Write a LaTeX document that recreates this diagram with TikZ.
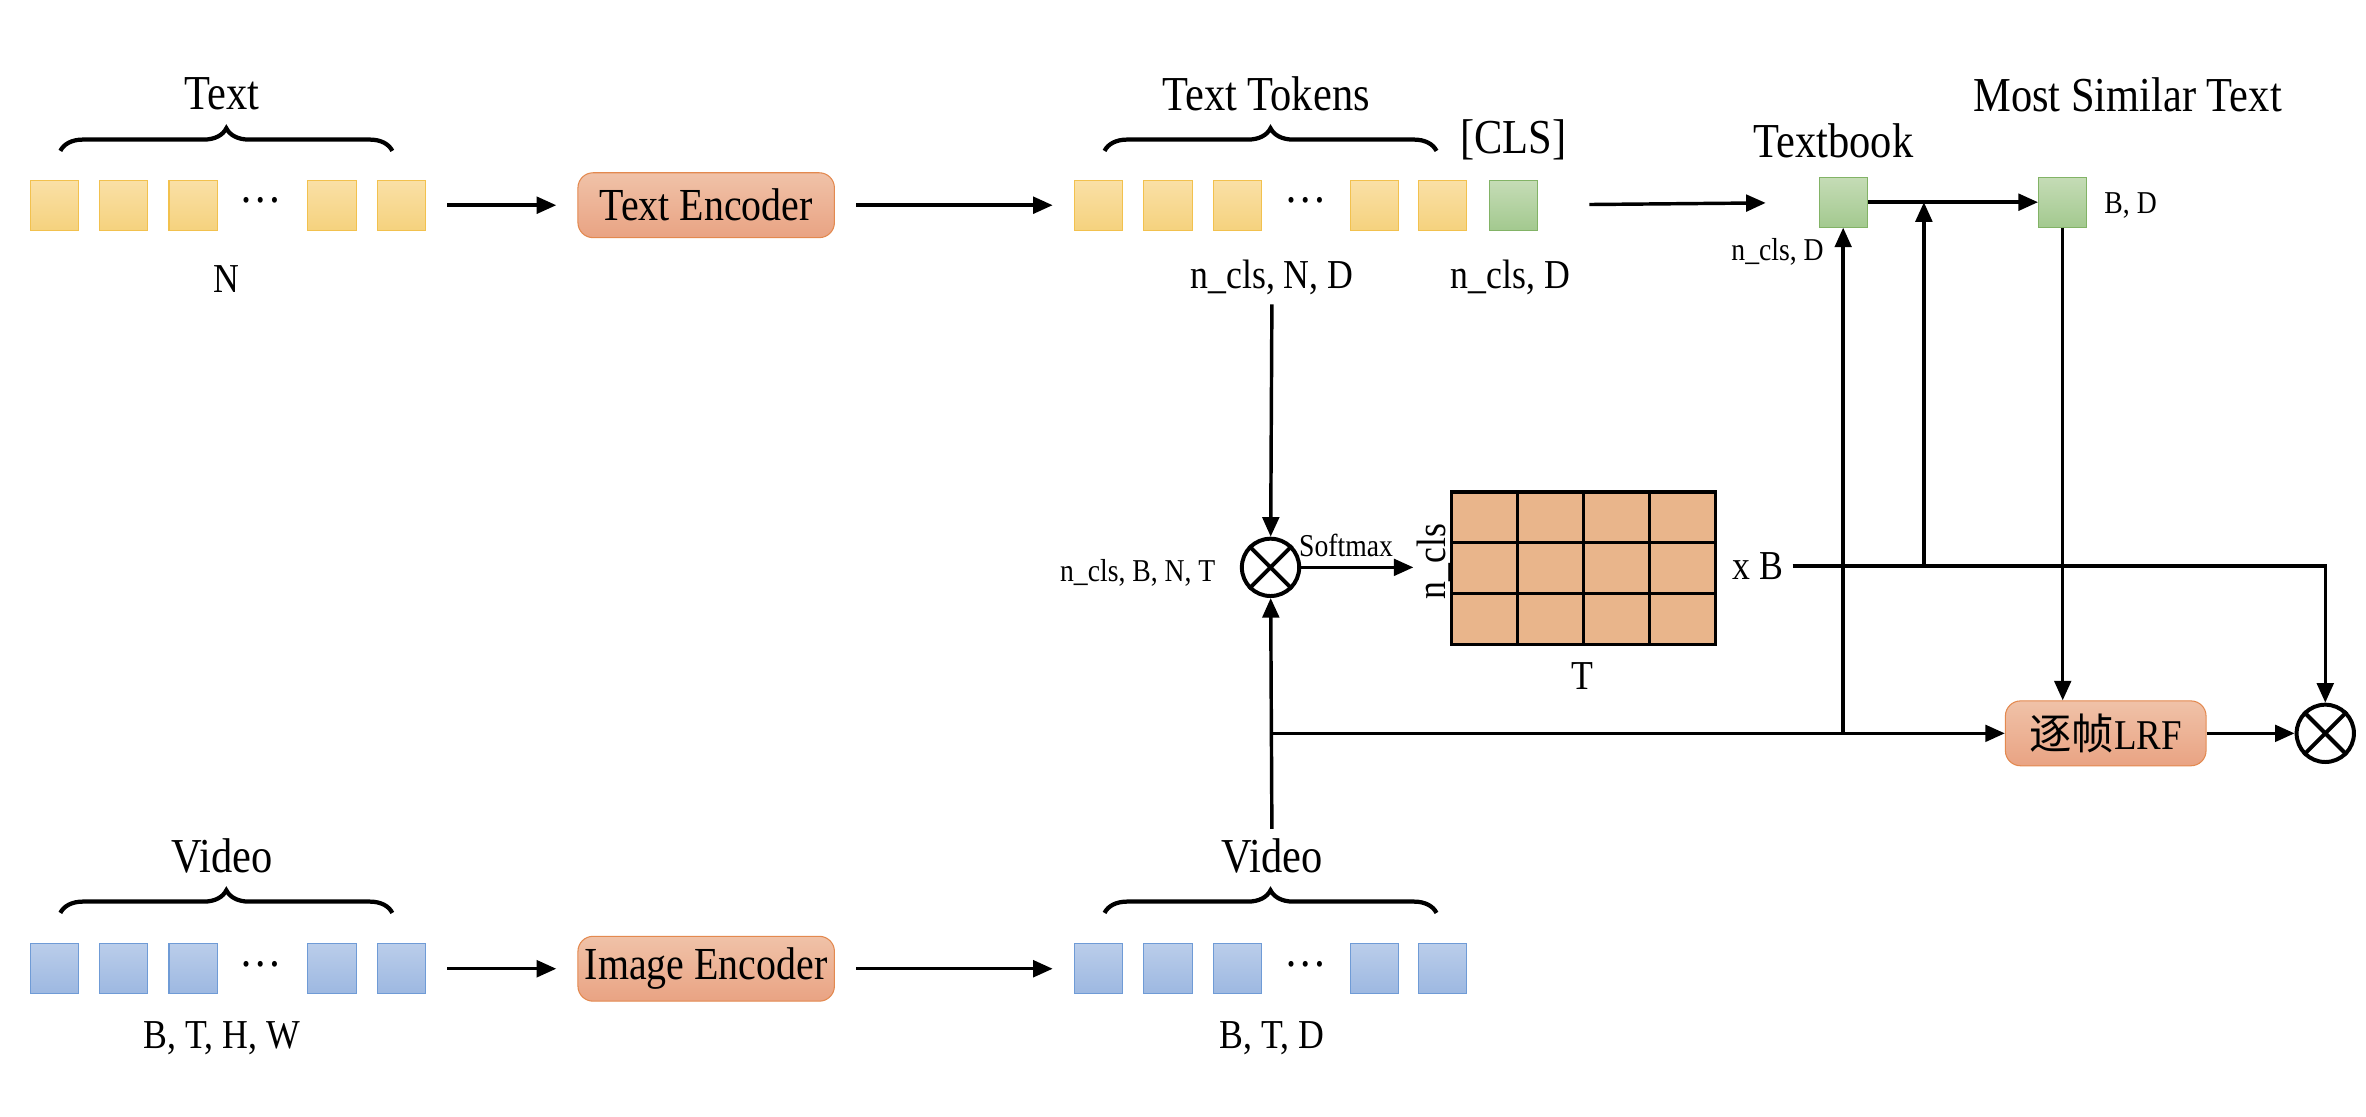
\documentclass[tikz,border=0pt]{standalone}
\usepackage{fontspec}
\setmainfont{Liberation Serif}[FakeStretch=0.87]
\newfontfamily\cjk{Noto Sans CJK SC}
\usetikzlibrary{arrows.meta,decorations.pathreplacing,shapes.misc}
\definecolor{ytop}{HTML}{FAE0A6}
\definecolor{ybot}{HTML}{F5D27E}
\definecolor{yline}{HTML}{F2C14E}
\definecolor{btop}{HTML}{BACDEA}
\definecolor{bbot}{HTML}{9DB8E1}
\definecolor{bline}{HTML}{6F9BD6}
\definecolor{gtop}{HTML}{C5DCB6}
\definecolor{gbot}{HTML}{A3C98F}
\definecolor{gline}{HTML}{82B366}
\definecolor{otop}{HTML}{F0C2A8}
\definecolor{obot}{HTML}{E9A383}
\definecolor{oline}{HTML}{E3894F}
\definecolor{matfill}{HTML}{E9B58B}

\begin{document}
\begin{tikzpicture}[x=0.02cm,y=-0.02cm,
    big/.style={font=\fontsize{18.4}{21}\selectfont},
    mid/.style={font=\fontsize{15.5}{18}\selectfont},
    small/.style={font=\fontsize{12}{14}\selectfont}]
\useasboundingbox (0,0) rectangle (1568,740);
\begin{scope}[every node/.style={rectangle,draw=yline,top color=ytop,bottom color=ybot,minimum width=0.64cm,minimum height=0.66cm,inner sep=0pt}]
    \node (T1) at (36,136) {};
    \node (T2) at (82,136) {};
    \node (T3) at (128,136) {};
    \node (T4) at (220,136) {};
    \node (T5) at (266,136) {};
    \node (U1) at (728,136) {};
    \node (U2) at (774,136) {};
    \node (U3) at (820,136) {};
    \node (U4) at (911,136) {};
    \node (U5) at (956,136) {};
\end{scope}
\begin{scope}[every node/.style={rectangle,draw=bline,top color=btop,bottom color=bbot,minimum width=0.64cm,minimum height=0.66cm,inner sep=0pt}]
    \node (V1) at (36,642) {};
    \node (V2) at (82,642) {};
    \node (V3) at (128,642) {};
    \node (V4) at (220,642) {};
    \node (V5) at (266,642) {};
    \node (W1) at (728,642) {};
    \node (W2) at (774,642) {};
    \node (W3) at (820,642) {};
    \node (W4) at (911,642) {};
    \node (W5) at (956,642) {};
\end{scope}
\begin{scope}[every node/.style={rectangle,draw=gline,top color=gtop,bottom color=gbot,minimum width=0.64cm,minimum height=0.66cm,inner sep=0pt}]
    \node (CLS) at (1003,136) {};
    \node (TB) at (1221.5,134) {};
    \node (MS) at (1367,134) {};
\end{scope}
\begin{scope}[every node/.style={rectangle,rounded corners=0.2cm,draw=oline,top color=otop,bottom color=obot,minimum height=0.86cm,inner sep=2pt}]
    \node[minimum width=3.4cm,font=\fontsize{17.3}{20}\selectfont] (TE) at (468,136) {Text Encoder};
    \node[minimum width=3.4cm,font=\fontsize{17.3}{20}\selectfont] (IE) at (468,642) {Image Encoder};
    \node[minimum width=2.66cm,font=\fontsize{16}{19}\selectfont] (LRF) at (1395.5,486) {{\cjk 逐帧}LRF};
\end{scope}
% dots and labels
\node[big] (D1) at (173,133) {…};
\node[big] (D2) at (865,133) {…};
\node[big] (D3) at (173,639) {…};
\node[big] (D4) at (865,639) {…};
\node[big] (Ltext) at (147,62) {Text};
\node[mid] (Ln) at (150,185) {N};
\node[big] (Ltok) at (839,62) {Text Tokens};
\node[big] (Lcls) at (1003,93) {[CLS]};
\node[mid] (Lnnd) at (843,184) {n\_cls, N, D};
\node[mid] (Lnd) at (1001,184) {n\_cls, D};
\node[big] (Lbook) at (1215,93) {Textbook};
\node[small] (Lbnd) at (1178,167) {n\_cls, D};
\node[big] (Lmost) at (1410,63) {Most Similar Text};
\node[small] (Lbd) at (1412,136) {B, D};
\node[small] (Lbnt) at (754,380) {n\_cls, B, N, T};
\node[mid,rotate=90,inner sep=1pt] (Lncls) at (950,372) {n\_cls};
\node[mid] (LT) at (1049,448) {T};
\node[mid] (Lxb) at (1165,375) {x B};
\node[big] (Lvid) at (147,567) {Video};
\node[mid] (Lbthw) at (147,688) {B, T, H, W};
\node[big] (Lvid2) at (843,567) {Video};
\node[mid] (Lbtd) at (843,688) {B, T, D};
% braces
\begin{scope}[line width=1.6pt,decoration={brace,amplitude=0.3cm}]
    \draw[decorate] (40,100) -- (260,100);
    \draw[decorate] (732,100) -- (952,100);
    \draw[decorate] (40,605) -- (260,605);
    \draw[decorate] (732,605) -- (952,605);
\end{scope}
% attention map
\node[draw,line width=1.3pt,fill=matfill,minimum width=3.5cm,minimum height=2.02cm,inner sep=0pt] (A) at (1049.5,376.5) {};
\draw[line width=1.2pt] (1005.75,326) -- (1005.75,427) (1049.5,326) -- (1049.5,427) (1093.25,326) -- (1093.25,427)
    (962,359.67) -- (1137,359.67) (962,393.33) -- (1137,393.33);
% products
\begin{scope}[every node/.style={circle,draw,line width=1.5pt,minimum size=0.76cm,inner sep=0pt}]
    \node (M1) at (842,376) {};
    \node (M2) at (1541,486) {};
\end{scope}
\draw[line width=1.5pt] (M1.45) -- (M1.225) (M1.135) -- (M1.315);
\draw[line width=1.5pt] (M2.45) -- (M2.225) (M2.135) -- (M2.315);
\coordinate (J1) at (843,486);
\coordinate (J2) at (1221.5,486);
\coordinate (J3) at (1275,375);
\coordinate (J4) at (1275,134);
\begin{scope}[>={Triangle[length=0.26cm,width=0.22cm]},
              every edge/.style={draw,line width=1.3pt},
              gap/.style={shorten <=0.28cm,shorten >=0.28cm},
              wide/.style={shorten <=0.68cm,shorten >=0.7cm}]
    \path [->] (T5) edge [gap] (TE);
    \path [->] (TE) edge [gap] (U1);
    \path [->] (V5) edge [gap] (IE);
    \path [->] (IE) edge [gap] (W1);
    \path [->] (CLS) edge [wide] (TB);
    \path [->] (TB) edge (MS);
    \path [->] (Lnnd) edge (M1);
    \path [->] (Lvid2) edge (M1);
    \path [->] (M1) edge node [small,above,pos=.4] {Softmax} (M1 -| Lncls.north);
    \path [->] (J1) edge (LRF);
    \path [->] (J2) edge (TB);
    \path [->] (J3) edge (J4);
    \path [->] (MS) edge (MS |- LRF.north);
    \path [->] (LRF) edge (M2);
    \draw [->,line width=1.3pt] (Lxb) -| (M2);
\end{scope}
\end{tikzpicture}
\end{document}
